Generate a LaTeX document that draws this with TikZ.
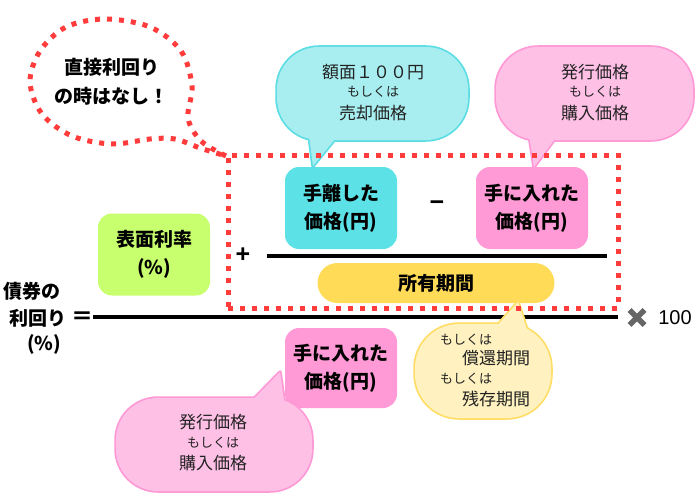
\documentclass[tikz,border=0pt]{standalone}
\usepackage{fontspec}
\setmainfont{Noto Sans CJK JP}
\newfontfamily\lib{Liberation Sans}
\definecolor{redd}{HTML}{FF3B3B}
\definecolor{greenbox}{HTML}{C8FF6E}
\definecolor{cyanbox}{HTML}{5CE1E6}
\definecolor{pinkbox}{HTML}{FF9AD6}
\definecolor{yellowbox}{HTML}{FFDB58}
\definecolor{cyanbg}{HTML}{A8EEF0}
\definecolor{cyanbd}{HTML}{5CDDE3}
\definecolor{pinkbg}{HTML}{FFC0E6}
\definecolor{pinkbd}{HTML}{FF99D6}
\definecolor{yelbg}{HTML}{FFF2C0}
\definecolor{yelbd}{HTML}{FFDD66}
\definecolor{txt}{HTML}{222222}
\definecolor{xgray}{HTML}{666666}
\tikzset{
  boxnode/.style={rounded corners=14pt, minimum width=112pt, minimum height=82pt,
    inner sep=0pt, align=center, font=\fontsize{19}{28}\selectfont\bfseries},
  reddots/.style={draw=redd, line width=5pt, dash pattern=on 5pt off 7pt},
  bigtxt/.style={font=\fontsize{17}{20}\selectfont, text=txt, inner sep=0pt},
  smalltxt/.style={font=\fontsize{13}{15}\selectfont, text=txt, inner sep=0pt},
  lbl/.style={font=\fontsize{19}{22}\selectfont\bfseries, inner sep=0pt},
  opsign/.style={font=\lib\bfseries\fontsize{25}{27}\selectfont, inner sep=0pt},
  rulel/.style={line width=4.5pt, draw=black},
  bubout/.style={draw=#1, line width=3.5pt, line join=round},
}
\begin{document}
\begin{tikzpicture}[x=1pt,y=-1pt]
\useasboundingbox (0,0) rectangle (700,500);

% ---------- thought bubble (dotted) ----------
\draw[reddots] plot[smooth, tension=0.55] coordinates {
  (226,156) (201,141) (188,118) (192,86) (181,51) (150,27) (105,19)
  (66,27) (40,51) (30,82) (42,114) (72,136) (112,144) (150,139)
  (175,139) (200,148) (226,156)};
\node[lbl] (t1) at (112,67) {直接利回り};
\node[lbl] (t2) at (111,96) {の時はなし！};

% ---------- fraction lines ----------
\draw[rulel] (93,317) -- (618,317);
\draw[rulel] (267,256) -- (607,256);

% ---------- left label ----------
\node[lbl, anchor=west] (l1) at (3,291) {債券の};
\node[lbl, anchor=west] (l2) at (9,318) {利回り};
\node[lbl, anchor=west] (l3) at (27,344) {(\%)};
\node[font=\fontsize{22}{24}\selectfont\bfseries, inner sep=0pt] (eq) at (82,318) {＝};

% ---------- boxes ----------
\node[boxnode, fill=greenbox] (rate) at (154,254.5) {表面利率\\(\%)};
\node[boxnode, fill=cyanbox] (sell) at (341,208) {手離した\\価格(円)};
\node[boxnode, fill=pinkbox] (buy) at (532,208) {手に入れた\\価格(円)};
\node[boxnode, fill=pinkbox, minimum height=80pt] (buy2) at (341,368) {手に入れた\\価格(円)};
\node[fill=yellowbox, rounded corners=20pt, minimum width=237pt, minimum height=40pt,
  inner sep=0pt, font=\fontsize{19}{22}\selectfont\bfseries] (hold) at (436,283) {所有期間};

\node[opsign] (plus) at (243,255) {+};
\node[opsign] (minus) at (437,206) {−};

% ---------- × 100 ----------
\draw[xgray, line width=5.5pt] (629.5,310) -- (644.5,325) (629.5,325) -- (644.5,310);
\node[font=\lib\fontsize{20}{22}\selectfont, inner sep=0pt] (hund) at (675,318) {100};

% ---------- cyan bubble ----------
\path[bubout=cyanbd, rounded corners=42pt] (277,47) rectangle (468,140);
\path[bubout=cyanbd] (308,128) -- (313,166) -- (344,128) -- cycle;
\fill[cyanbg, rounded corners=42pt] (277,47) rectangle (468,140);
\fill[cyanbg] (308,128) -- (313,166) -- (344,128) -- cycle;
\node[bigtxt] (c1) at (373,72) {額面１００円};
\node[smalltxt] (c2) at (373,92) {もしくは};
\node[bigtxt] (c3) at (373,113) {売却価格};

% ---------- pink bubble (top) ----------
\path[bubout=pinkbd, rounded corners=42pt] (496,47) rectangle (693,140);
\path[bubout=pinkbd] (528,128) -- (534,167) -- (563,128) -- cycle;
\fill[pinkbg, rounded corners=42pt] (496,47) rectangle (693,140);
\fill[pinkbg] (528,128) -- (534,167) -- (563,128) -- cycle;
\node[bigtxt] (p1) at (595,72) {発行価格};
\node[smalltxt] (p2) at (595,92) {もしくは};
\node[bigtxt] (p3) at (595,113) {購入価格};

% ---------- pink bubble (bottom) ----------
\path[bubout=pinkbd, rounded corners=42pt] (116,398) rectangle (312,491);
\path[bubout=pinkbd] (243,410) -- (280,372) -- (286,414) -- cycle;
\fill[pinkbg, rounded corners=42pt] (116,398) rectangle (312,491);
\fill[pinkbg] (243,410) -- (280,372) -- (286,414) -- cycle;
\node[bigtxt] (q1) at (213,422) {発行価格};
\node[smalltxt] (q2) at (213,443) {もしくは};
\node[bigtxt] (q3) at (213,463) {購入価格};

% ---------- yellow bubble ----------
\path[bubout=yelbd, rounded corners=44pt] (415,324) rectangle (551,418);
\path[bubout=yelbd] (488,336) -- (518,302) -- (529,336) -- cycle;
\fill[yelbg, rounded corners=44pt] (415,324) rectangle (551,418);
\fill[yelbg] (488,336) -- (518,302) -- (529,336) -- cycle;
\node[smalltxt, anchor=west] (y1) at (440,340) {もしくは};
\node[bigtxt, anchor=west] (y2) at (462,358) {償還期間};
\node[smalltxt, anchor=west] (y3) at (440,379) {もしくは};
\node[bigtxt, anchor=west] (y4) at (462,399) {残存期間};

% ---------- dotted group rectangle ----------
\node[reddots, minimum width=390pt, minimum height=153pt, inner sep=0pt] (grp) at (423,231.5) {};

\end{tikzpicture}
\end{document}
